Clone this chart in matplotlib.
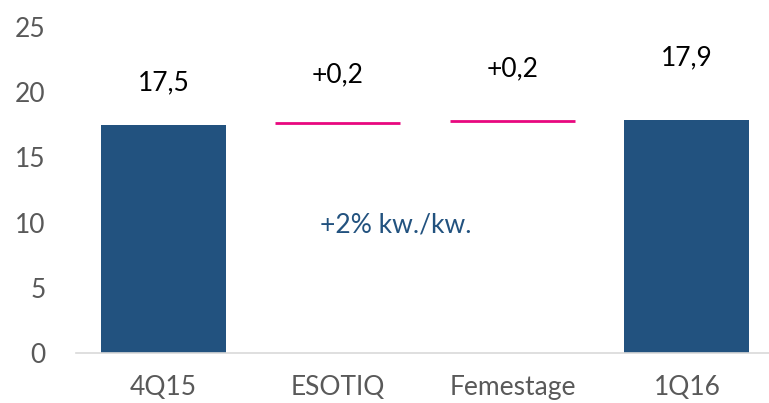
import numpy as np
import matplotlib
matplotlib.use("Agg")
import matplotlib.pyplot as plt

plt.rcParams['font.family'] = ['Lato', 'DejaVu Sans']

# dane
categories = ['4Q15', 'ESOTIQ', 'Femestage', '1Q16']
bar_values = [17.5, 0, 0, 17.9]
step_levels = [None, 17.6, 17.8, None]
labels = ['17,5', '+0,2', '+0,2', '17,9']
label_y = [20.7, 21.3, 21.8, 22.6]
note = '+2% kw./kw.'

blue = '#22527F'
pink = '#E8087F'

fig = plt.figure(figsize=(7.69, 4.03), dpi=100)
ax = fig.add_axes([76 / 769, 50 / 403, 1 - 76 / 769, (353 - 27) / 403 * 1.0])

x = np.arange(len(categories))
w = 0.716
for i in range(len(categories)):
    if step_levels[i] is None:
        ax.bar(x[i], bar_values[i], width=w, color=blue)
    else:
        ax.hlines(step_levels[i], x[i] - w / 2, x[i] + w / 2, color=pink, lw=2)
    ax.text(x[i], label_y[i], labels[i], ha='center', va='center', fontsize=19, color='black')

ax.text(1.33, 9.8, note, ha='center', va='center', fontsize=19, color=blue)

ax.set_ylim(0, 25)
ax.set_xlim(-0.5, 3.47)
ax.set_yticks([0, 5, 10, 15, 20, 25])
ax.set_xticks(x)
ax.set_xticklabels(categories)
for s in ['top', 'right', 'left']:
    ax.spines[s].set_visible(False)
ax.spines['bottom'].set_color('#D9D9D9')
ax.spines['bottom'].set_linewidth(1.2)
ax.tick_params(axis='both', length=0, labelsize=19, labelcolor='#595959')
ax.tick_params(axis='y', pad=22)
ax.tick_params(axis='x', pad=16)

fig.savefig('out.png', dpi=100)
